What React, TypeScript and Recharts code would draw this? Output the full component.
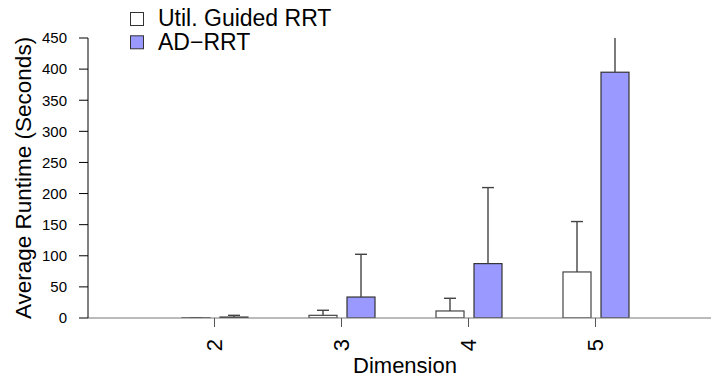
import { BarChart, Bar, XAxis, YAxis, Legend, Label } from 'recharts';

const dimensions = ['2', '3', '4', '5'];
// mean runtime (seconds) and upper error (sd)
const utilGuided = [0.3, 4.3, 11.3, 74];
const utilGuidedSd = [0.2, 8.1, 20.4, 81];
const adRrt = [1.5, 33.7, 87.4, 395];
const adRrtSd = [2.8, 68.7, 122.2, 150];
const yTicks = [0, 50, 100, 150, 200, 250, 300, 350, 400, 450];

const data = dimensions.map((d, i) => ({
  dim: d,
  util: utilGuided[i],
  utilSd: utilGuidedSd[i],
  ad: adRrt[i],
  adSd: adRrtSd[i],
}));

const FONT = '"Liberation Sans", Arial, Helvetica, sans-serif';
const BLUE = '#9999ff';

// bar + upper error whisker, whisker clipped at the plot top like R does
function BarWithError(props: any) {
  const { x, y, width, height, fill, stroke, strokeWidth, background, value, sd } = props;
  const pxPerUnit = value ? height / value : 0;
  const top = y - sd * pxPerUnit;
  const plotTop = background ? background.y : 0;
  const cx = x + width / 2;
  return (
    <g>
      <rect x={x} y={y} width={width} height={Math.max(height, 0.5)} fill={fill} stroke={stroke} strokeWidth={strokeWidth} />
      <line x1={cx} x2={cx} y1={y} y2={Math.max(top, plotTop)} stroke="#444" strokeWidth={1.4} />
      {top >= plotTop && <line x1={cx - 6} x2={cx + 6} y1={top} y2={top} stroke="#444" strokeWidth={1.4} />}
    </g>
  );
}

function DimTick(props: any) {
  const { x, y, payload } = props;
  return (
    <text
      transform={`translate(${x + 7},${y}) rotate(-90)`}
      textAnchor="end"
      fontSize={22}
      fontFamily={FONT}
      fill="#000"
    >
      {payload.value}
    </text>
  );
}

function YTitle(props: any) {
  const { viewBox } = props;
  const cx = viewBox.x + 31;
  const cy = viewBox.y + viewBox.height / 2;
  return (
    <text
      x={cx}
      y={cy}
      transform={`rotate(-90, ${cx}, ${cy})`}
      textAnchor="middle"
      fontSize={22.5}
      fontFamily={FONT}
      fill="#000"
    >
      Average Runtime (Seconds)
    </text>
  );
}

function XTitle(props: any) {
  const { viewBox } = props;
  return (
    <text
      x={viewBox.x + viewBox.width / 2 + 5.5}
      y={viewBox.y + 55}
      textAnchor="middle"
      fontSize={22}
      fontFamily={FONT}
      fill="#000"
    >
      Dimension
    </text>
  );
}

const legendItems = [
  { label: 'Util. Guided RRT', fill: '#ffffff' },
  { label: 'AD\u2212RRT', fill: BLUE },
];

function LegendBox() {
  return (
    <svg width={360} height={56} style={{ display: 'block' }}>
      {legendItems.map((it, i) => (
        <g key={it.label}>
          <rect x={130.5} y={12.5 + i * 23.3} width={13} height={13} fill={it.fill} stroke="#333" strokeWidth={1} />
          <text x={158} y={26 + i * 24} fontSize={23} fontFamily={FONT} fill="#000">
            {it.label}
          </text>
        </g>
      ))}
    </svg>
  );
}

export default function App() {
  return (
    <div style={{ position: 'absolute', left: 0, top: 0, background: '#fff' }}>
      <BarChart
        width={711}
        height={381}
        data={data}
        margin={{ top: 38, right: 0, bottom: 0, left: 0 }}
        barSize={28}
        barGap={10}
      >
        <XAxis
          dataKey="dim"
          interval={0}
          height={63}
          padding={{ left: 63, right: 52 }}
          tickSize={9}
          tickMargin={12}
          tickLine={{ stroke: '#555' }}
          axisLine={{ stroke: '#777' }}
          tick={<DimTick />}
        >
          <Label content={<XTitle />} />
        </XAxis>
        <YAxis
          type="number"
          domain={[0, 450]}
          ticks={yTicks}
          allowDataOverflow
          width={88}
          tickSize={9}
          tickMargin={12}
          tickLine={{ stroke: '#000' }}
          axisLine={{ stroke: '#000' }}
          tick={{ fontSize: 15, fill: '#000', fontFamily: FONT }}
        >
          <Label content={<YTitle />} />
        </YAxis>
        <Legend
          layout="horizontal"
          verticalAlign="middle"
          align="center"
          wrapperStyle={{ top: 0, left: 0, width: 360 }}
          content={<LegendBox />}
        />
        <Bar
          dataKey="util"
          fill="#ffffff"
          stroke="#444"
          strokeWidth={1.2}
          isAnimationActive={false}
          shape={(p: any) => <BarWithError {...p} sd={p.payload.utilSd} />}
        />
        <Bar
          dataKey="ad"
          fill={BLUE}
          stroke="#333"
          strokeWidth={1.2}
          isAnimationActive={false}
          shape={(p: any) => <BarWithError {...p} sd={p.payload.adSd} />}
        />
      </BarChart>
    </div>
  );
}
